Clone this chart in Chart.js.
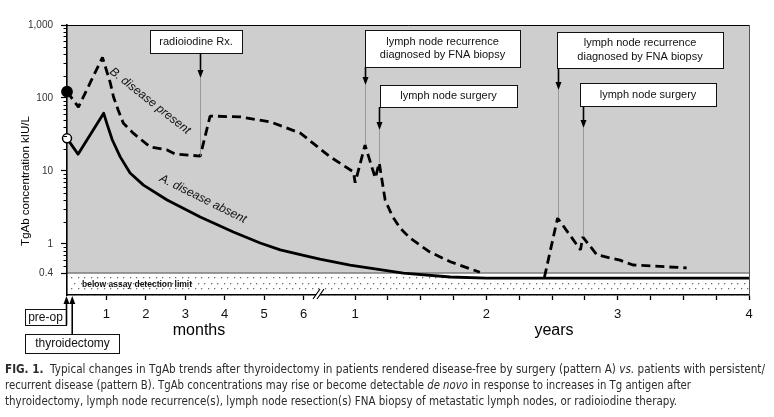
<!DOCTYPE html>
<html>
<head>
<meta charset="utf-8">
<script src="https://cdn.jsdelivr.net/npm/chart.js@4.4.1/dist/chart.umd.min.js"></script>
<style>
  body { margin: 0; background: #fff; }
  #wrap { position: relative; width: 774px; height: 417px; overflow: hidden; }
  #chart { position: absolute; left: 0; top: 0; }
  .cap {
    position: absolute; left: 5px; white-space: nowrap;
    font-family: "Liberation Sans Narrow", "DejaVu Sans Condensed", "Liberation Sans", sans-serif;
    font-size: 12px; line-height: 14px; color: #2b2b2b; transform-origin: 0 50%;
  }
</style>
</head>
<body>
<div id="wrap">
  <canvas id="chart" width="774" height="417"></canvas>
  <div class="cap" id="cap1" style="top:362px"><b>FIG. 1.</b>&nbsp; Typical changes in TgAb trends after thyroidectomy in patients rendered disease-free by surgery (pattern A) <i>vs.</i> patients with persistent/</div>
  <div class="cap" id="cap2" style="top:378px">recurrent disease (pattern B). TgAb concentrations may rise or become detectable <i>de novo</i> in response to increases in Tg antigen after</div>
  <div class="cap" id="cap3" style="top:394px">thyroidectomy, lymph node recurrence(s), lymph node resection(s) FNA biopsy of metastatic lymph nodes, or radioiodine therapy.</div>
</div>
<script>
document.addEventListener('DOMContentLoaded', () => {
    // time is in months throughout, TgAb in kIU/L
    const monthTicks = [1, 2, 3, 4, 5, 6];
    const yearTicks = [1, 2, 3, 4];
    const quarterTicks = [1.25, 1.5, 1.75, 2.25, 2.5, 2.75, 3.25, 3.5, 3.75];
    const yTicks = [0.4, 1, 10, 100, 1000];
    const yTickLabels = ['0.4', '1', '10', '100', '1,000'];
    const detectionLimit = 0.4;

    // A. disease absent
    const absentTime = [0, 0.28, 0.93, 1.01, 1.15, 1.35, 1.6, 1.94, 2.54, 3.38, 4.22, 4.9, 5.41, 6, 7.9, 11.4, 16.4, 20.7, 24, 48];
    const absentValue = [28, 17, 62, 45, 26.6, 15.6, 9.4, 6.4, 4.0, 2.34, 1.46, 1.03, 0.83, 0.7, 0.62, 0.515, 0.40, 0.353, 0.34, 0.34];

    // B. disease present (null = below detection, not drawn)
    const presentTime = [0, 0.29, 0.9, 1.1, 1.18, 1.3, 1.43, 1.68, 2.11, 2.54, 2.74, 3.38, 3.63, 4.4, 5.16, 5.92, 9.1, 11.8, 12.0,
        12.9, 13.84, 14.2, 14.74, 15.4, 16.1, 17.0, 18.8, 20.7, 23.4, 26,
        29.3, 30.5, 32.6, 32.8, 34.1, 36.2, 37.4, 42.3];
    const presentValue = [122, 75, 360, 160, 103, 68, 45, 33, 21.3, 19.4, 17.1, 16.0, 56.6, 55, 47, 33, 15.6, 9.7, 6.9,
        22.7, 8.0, 12.9, 4.0, 2.4, 1.66, 1.21, 0.78, 0.57, 0.41, null,
        0.35, 2.27, 0.83, 1.25, 0.71, 0.60, 0.515, 0.47];

    // events marked with boxes and arrows
    const eventNames = [['radioiodine Rx.'], ['lymph node recurrence', 'diagnosed by FNA biopsy'], ['lymph node surgery'],
        ['lymph node recurrence', 'diagnosed by FNA biopsy'], ['lymph node surgery']];
    const eventTime = [3.38, 12.9, 14.2, 30.5, 32.8];
    const eventValue = [16, 22.7, 12.9, 2.27, 1.25];
    const eventBox = [[150, 30, 92, 23], [365, 30, 155, 37], [380, 85, 137, 22], [557, 32, 166, 36], [580, 83, 136, 23]];
    const eventArrow = [25, 18, 23, 22, 22];

    // broken time axis: 0-6 months, squeezed 6-12 months, then years
    function axisPos(t) {
        if (t <= 6) return t;
        if (t <= 12) return 6 + (t - 6) / 6 * 1.31;
        return 7.31 + (t - 12) / 12 * 3.33;
    }

    const xTickPos = [];
    const xTickLabel = [];
    monthTicks.forEach(m => { xTickPos.push(axisPos(m)); xTickLabel.push(String(m)); });
    yearTicks.forEach(y => { xTickPos.push(axisPos(12 * y)); xTickLabel.push(String(y)); });
    quarterTicks.forEach(y => { xTickPos.push(axisPos(12 * y)); xTickLabel.push(''); });

    const FONT = '"Liberation Sans", Arial, sans-serif';
    Chart.defaults.font.family = FONT;

    function arrow(ctx, x, y0, y1) {
        const dir = y1 > y0 ? 1 : -1;
        ctx.strokeStyle = '#000';
        ctx.lineWidth = 1.6;
        ctx.beginPath();
        ctx.moveTo(x, y0);
        ctx.lineTo(x, y1 - dir * 6);
        ctx.stroke();
        ctx.fillStyle = '#000';
        ctx.beginPath();
        ctx.moveTo(x, y1);
        ctx.lineTo(x - 3, y1 - dir * 8);
        ctx.lineTo(x + 3, y1 - dir * 8);
        ctx.closePath();
        ctx.fill();
    }

    const backdrop = {
        id: 'backdrop',
        beforeDraw(chart) {
            const {ctx, chartArea: a, scales: {y}} = chart;
            const lim = y.getPixelForValue(detectionLimit);
            ctx.save();
            ctx.fillStyle = '#cecece';
            ctx.fillRect(a.left, a.top, a.right - a.left, lim - a.top);
            ctx.fillStyle = '#fff';
            ctx.fillRect(a.left, lim, a.right - a.left, a.bottom - lim);
            ctx.fillStyle = '#6e6e6e';
            let row = 0;
            for (let py = lim + 4; py < a.bottom - 1; py += 5.5, row++) {
                for (let px = a.left + 4 + (row % 2) * 3.25; px < a.right; px += 6.5) {
                    ctx.fillRect(Math.round(px), Math.round(py), 1.3, 1.3);
                }
            }
            ctx.strokeStyle = '#7d7d7d';
            ctx.lineWidth = 1.5;
            ctx.beginPath();
            ctx.moveTo(a.left, lim);
            ctx.lineTo(a.right, lim);
            ctx.stroke();
            ctx.fillStyle = '#111';
            ctx.font = 'bold 8.5px ' + FONT;
            ctx.textBaseline = 'middle';
            ctx.fillText('below assay detection limit', a.left + 15, (lim + a.bottom) / 2 + 1);
            ctx.restore();
        }
    };

    const notes = {
        id: 'notes',
        afterDraw(chart) {
            const {ctx, chartArea: a, scales: {x, y}} = chart;
            ctx.save();

            // frame top and right
            ctx.strokeStyle = '#000';
            ctx.lineWidth = 1;
            ctx.beginPath();
            ctx.moveTo(a.left, a.top + 0.5);
            ctx.lineTo(a.right + 0.5, a.top + 0.5);
            ctx.stroke();
            ctx.strokeStyle = '#555';
            ctx.beginPath();
            ctx.moveTo(a.right + 0.5, a.top);
            ctx.lineTo(a.right + 0.5, a.bottom);
            ctx.stroke();

            // minor log ticks
            ctx.strokeStyle = '#000';
            ctx.lineWidth = 1;
            for (let k = -1; k <= 2; k++) {
                for (let m = 2; m <= 9; m++) {
                    const v = m * Math.pow(10, k);
                    if (v <= detectionLimit || v >= 1000) continue;
                    const py = Math.round(y.getPixelForValue(v)) + 0.5;
                    ctx.beginPath();
                    ctx.moveTo(a.left - 3.5, py);
                    ctx.lineTo(a.left, py);
                    ctx.stroke();
                }
            }

            // event boxes, arrows and guide lines
            ctx.font = '11px ' + FONT;
            ctx.textAlign = 'center';
            ctx.textBaseline = 'middle';
            eventTime.forEach((t, i) => {
                const [bx, by, bw, bh] = eventBox[i];
                const ex = Math.round(x.getPixelForValue(axisPos(t))) + 0.5;
                const tip = by + bh + eventArrow[i];
                ctx.strokeStyle = '#8c8c8c';
                ctx.lineWidth = 0.8;
                ctx.beginPath();
                ctx.moveTo(ex, tip);
                ctx.lineTo(ex, y.getPixelForValue(eventValue[i]));
                ctx.stroke();
                arrow(ctx, ex, by + bh, tip);
                ctx.fillStyle = '#fff';
                ctx.fillRect(bx, by, bw, bh);
                ctx.strokeStyle = '#111';
                ctx.lineWidth = 1;
                ctx.strokeRect(bx + 0.5, by + 0.5, bw, bh);
                ctx.fillStyle = '#111';
                const lines = eventNames[i];
                lines.forEach((s, j) => {
                    ctx.fillText(s, bx + bw / 2, by + bh / 2 + (j - (lines.length - 1) / 2) * 13.5);
                });
            });

            // curve labels
            ctx.font = 'italic 12px ' + FONT;
            ctx.fillStyle = '#111';
            ctx.save();
            ctx.translate(150, 101);
            ctx.rotate(Math.atan2(61, 77));
            ctx.fillText('B. disease present', 0, 0);
            ctx.restore();
            ctx.save();
            ctx.translate(203, 199);
            ctx.rotate(Math.atan2(43, 87));
            ctx.fillText('A. disease absent', 0, 0);
            ctx.restore();

            // axis break mark
            ctx.fillStyle = '#fff';
            ctx.beginPath();
            ctx.moveTo(313, 299); ctx.lineTo(320, 289); ctx.lineTo(324, 289); ctx.lineTo(317, 299);
            ctx.closePath();
            ctx.fill();
            ctx.strokeStyle = '#000';
            ctx.lineWidth = 1.2;
            ctx.beginPath();
            ctx.moveTo(313, 299); ctx.lineTo(320, 289);
            ctx.moveTo(317, 299); ctx.lineTo(324, 289);
            ctx.stroke();

            // pre-op / thyroidectomy
            const x0 = x.getPixelForValue(0);
            ctx.font = '12px ' + FONT;
            ctx.lineWidth = 1;
            ctx.strokeStyle = '#111';
            ctx.fillStyle = '#fff';
            ctx.fillRect(25, 309, 41, 16);
            ctx.strokeRect(25.5, 309.5, 41, 16);
            ctx.fillRect(25, 334, 94, 19);
            ctx.strokeRect(25.5, 334.5, 94, 19);
            ctx.fillStyle = '#111';
            ctx.fillText('pre-op', 45.5, 317.5);
            ctx.fillText('thyroidectomy', 72.5, 344);
            arrow(ctx, x0 - 0.5, 325, a.bottom + 1);
            arrow(ctx, x.getPixelForValue(0.12) + 0.5, 334, a.bottom + 1);

            // axis titles
            ctx.font = '16px ' + FONT;
            ctx.fillText('months', 199, 331);
            ctx.fillText('years', 554, 331);
            ctx.font = '11.5px ' + FONT;
            ctx.translate(26, 181);
            ctx.rotate(-Math.PI / 2);
            ctx.fillText('TgAb concentration kIU/L', 0, 0);
            ctx.restore();
        }
    };

    const firstPoint = c => (c.dataIndex === 0 ? 4.5 : 0);

    new Chart(document.getElementById('chart'), {
        type: 'line',
        data: {
            datasets: [{
                label: 'A. disease absent',
                data: absentTime.map((t, i) => ({x: axisPos(t), y: absentValue[i]})),
                borderColor: '#000',
                borderWidth: 2.8,
                borderJoinStyle: 'round',
                pointRadius: firstPoint,
                pointBackgroundColor: '#fff',
                pointBorderColor: '#000',
                pointBorderWidth: 1.5,
                tension: 0,
                clip: false
            }, {
                label: 'B. disease present',
                data: presentTime.map((t, i) => ({x: axisPos(t), y: presentValue[i]})),
                borderColor: '#000',
                borderWidth: 2.8,
                borderDash: [9, 5],
                borderJoinStyle: 'bevel',
                pointRadius: firstPoint,
                pointBackgroundColor: '#000',
                pointBorderColor: '#000',
                tension: 0,
                spanGaps: false,
                clip: false
            }]
        },
        options: {
            responsive: false,
            animation: false,
            events: [],
            layout: {padding: {top: 25, right: 25, left: 0, bottom: 0}},
            plugins: {legend: {display: false}, tooltip: {enabled: false}},
            scales: {
                x: {
                    type: 'linear',
                    min: 0,
                    max: 17.3,
                    afterBuildTicks: s => { s.ticks = xTickPos.map(v => ({value: v})); },
                    afterFit: s => { s.height = 122; },
                    grid: {drawOnChartArea: false, drawTicks: true, tickLength: 5, tickColor: '#000', tickWidth: 1.3},
                    border: {display: true, color: '#000', width: 1.6},
                    ticks: {
                        autoSkip: false,
                        maxRotation: 0,
                        padding: 7,
                        color: '#111',
                        font: {size: 13},
                        callback: (v, i) => xTickLabel[i]
                    }
                },
                y: {
                    type: 'logarithmic',
                    min: 0.2,
                    max: 1000,
                    afterBuildTicks: s => { s.ticks = yTicks.map(v => ({value: v})); },
                    afterFit: s => { s.width = 67; },
                    grid: {drawOnChartArea: false, drawTicks: true, tickLength: 6, tickColor: '#000', tickWidth: 1.2},
                    border: {display: true, color: '#000', width: 1.6},
                    ticks: {
                        padding: 8,
                        color: '#333',
                        font: {size: 10},
                        callback: (v, i) => yTickLabels[i]
                    }
                }
            }
        },
        plugins: [backdrop, notes]
    });

    // squeeze caption lines to the printed width
    [['cap1', 760], ['cap2', 686], ['cap3', 672]].forEach(([id, w]) => {
        const el = document.getElementById(id);
        el.style.transform = 'scaleX(' + (w / el.getBoundingClientRect().width) + ')';
    });
});
</script>
</body>
</html>
